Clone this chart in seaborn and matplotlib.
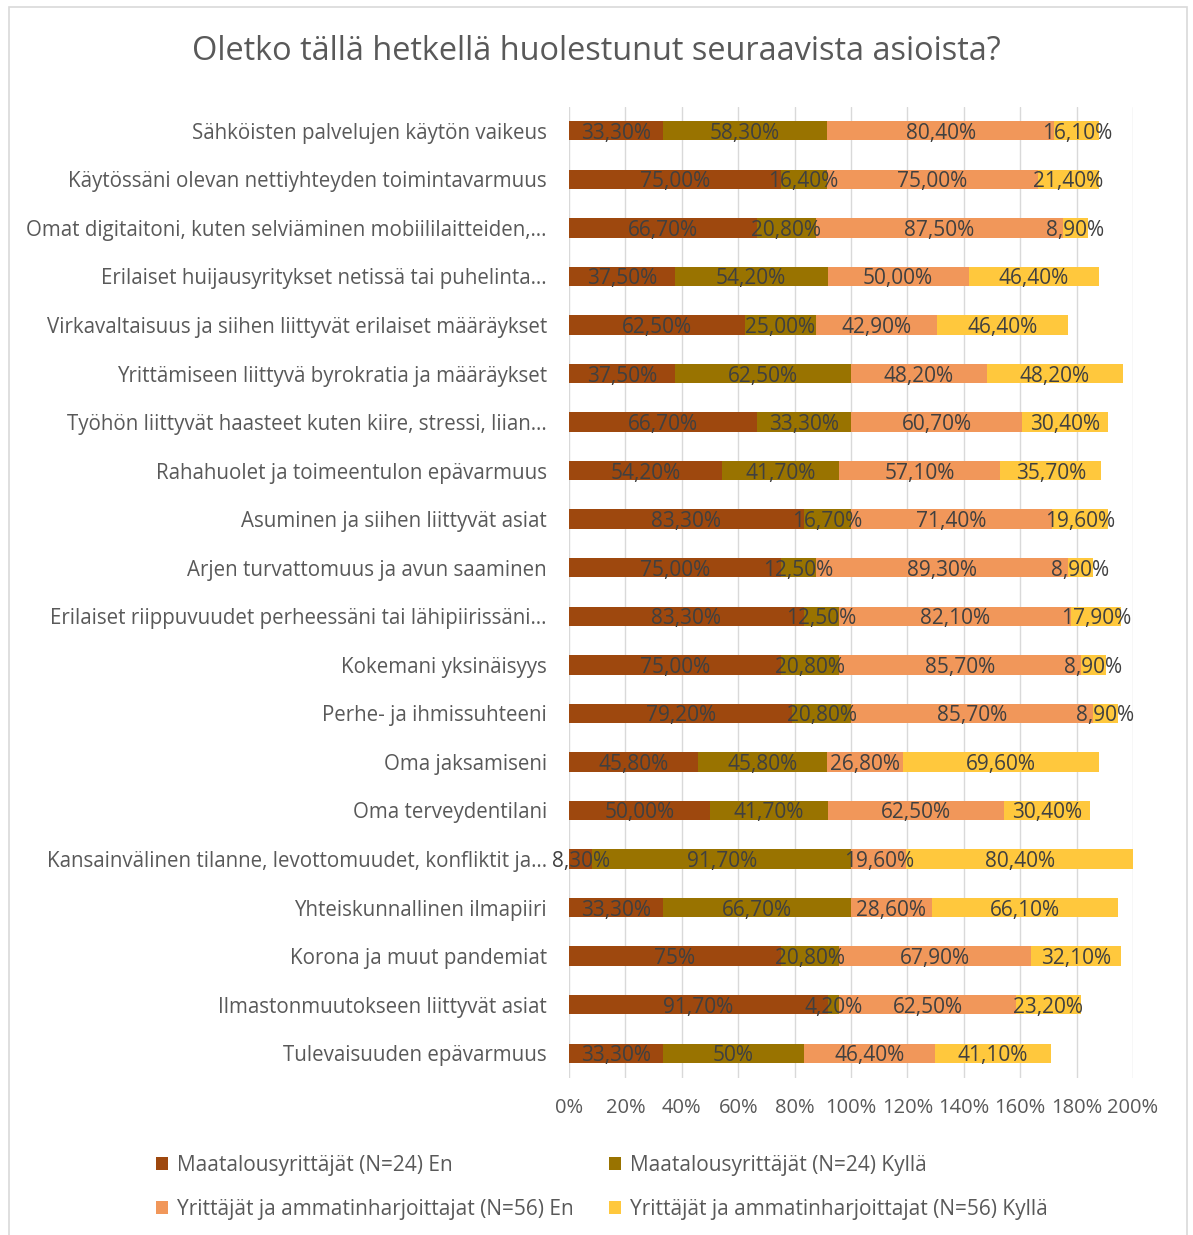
import matplotlib
matplotlib.use('Agg')
import matplotlib.pyplot as plt
from matplotlib.patches import Patch, Rectangle
import seaborn as sns
import pandas as pd
import numpy as np

#%% Data

categories = [
    'Sähköisten palvelujen käytön vaikeus',
    'Käytössäni olevan nettiyhteyden toimintavarmuus',
    'Omat digitaitoni, kuten selviäminen mobiililaitteiden,…',
    'Erilaiset huijausyritykset netissä tai puhelinta…',
    'Virkavaltaisuus ja siihen liittyvät erilaiset määräykset',
    'Yrittämiseen liittyvä byrokratia ja määräykset',
    'Työhön liittyvät haasteet kuten kiire, stressi, liian…',
    'Rahahuolet ja toimeentulon epävarmuus',
    'Asuminen ja siihen liittyvät asiat',
    'Arjen turvattomuus ja avun saaminen',
    'Erilaiset riippuvuudet perheessäni tai lähipiirissäni…',
    'Kokemani yksinäisyys',
    'Perhe- ja ihmissuhteeni',
    'Oma jaksamiseni',
    'Oma terveydentilani',
    'Kansainvälinen tilanne, levottomuudet, konfliktit ja…',
    'Yhteiskunnallinen ilmapiiri',
    'Korona ja muut pandemiat',
    'Ilmastonmuutokseen liittyvät asiat',
    'Tulevaisuuden epävarmuus',
]

maatalous_en = [33.3, 75.0, 66.7, 37.5, 62.5, 37.5, 66.7, 54.2, 83.3, 75.0,
                83.3, 75.0, 79.2, 45.8, 50.0, 8.3, 33.3, 75.0, 91.7, 33.3]
maatalous_kylla = [58.3, 16.4, 20.8, 54.2, 25.0, 62.5, 33.3, 41.7, 16.7, 12.5,
                   12.5, 20.8, 20.8, 45.8, 41.7, 91.7, 66.7, 20.8, 4.2, 50.0]
yrittajat_en = [80.4, 75.0, 87.5, 50.0, 42.9, 48.2, 60.7, 57.1, 71.4, 89.3,
                82.1, 85.7, 85.7, 26.8, 62.5, 19.6, 28.6, 67.9, 62.5, 46.4]
yrittajat_kylla = [16.1, 21.4, 8.9, 46.4, 46.4, 48.2, 30.4, 35.7, 19.6, 8.9,
                   17.9, 8.9, 8.9, 69.6, 30.4, 80.4, 66.1, 32.1, 23.2, 41.1]

series_names = ['Maatalousyrittäjät (N=24) En',
                'Maatalousyrittäjät (N=24) Kyllä',
                'Yrittäjät ja ammatinharjoittajat (N=56) En',
                'Yrittäjät ja ammatinharjoittajat (N=56) Kyllä']

# labels that are shown without decimals in the original
short_labels = {(0, 17): '75%', (1, 19): '50%'}

xticks = np.arange(0, 201, 20)

colors = ['#9E480E', '#997300', '#F1975A', '#FFC83D']

#%% Build frame

series = [maatalous_en, maatalous_kylla, yrittajat_en, yrittajat_kylla]
df = pd.DataFrame({'cat': categories})
for i, s in enumerate(series):
    df['s%d' % i] = s
cum = np.cumsum(np.array(series), axis=0)
for i in range(4):
    df['c%d' % i] = cum[i]

#%% Plot

sns.set_style('white')
plt.rcParams['font.family'] = ['Open Sans', 'DejaVu Sans']

fig = plt.figure(figsize=(11.93, 12.35), dpi=100)
ax = fig.add_axes([569 / 1193, 1 - 1077.5 / 1235,
                   (1133 - 569) / 1193, (1077.5 - 106.5) / 1235])

# stacked bars: draw the cumulative totals from largest to smallest
for i in [3, 2, 1, 0]:
    sns.barplot(data=df, x='c%d' % i, y='cat', color=colors[i], saturation=1,
                width=0.4, errorbar=None, linewidth=0, ax=ax, zorder=3)

# segment labels in the middle of each segment
for i in range(4):
    for r in range(len(categories)):
        v = series[i][r]
        left = cum[i][r] - v
        txt = short_labels.get((i, r), ('%.2f' % v).replace('.', ',') + '%')
        ax.text(left + v / 2, r, txt, ha='center', va='center_baseline',
                fontsize=15, color='#404040', zorder=5)

ax.set_xlim(0, 200)
ax.set_ylim(len(categories) - 0.5, -0.5)
ax.set_xticks(xticks)
ax.set_xticklabels(['%d%%' % t for t in xticks])
ax.set_xlabel('')
ax.set_ylabel('')
ax.grid(axis='x', color='#D9D9D9', lw=1, zorder=0)
ax.grid(axis='y', visible=False)
for sp in ax.spines.values():
    sp.set_visible(False)
ax.tick_params(axis='x', length=0, pad=15, labelsize=14.5, colors='#595959')
ax.tick_params(axis='y', length=0, pad=16, labelsize=14.8, colors='#595959')

fig.suptitle('Oletko tällä hetkellä huolestunut seuraavista asioista?',
             fontsize=23.4, color='#595959', x=0.5, y=1 - 51 / 1235, va='center')

# legend: two rows, two columns
handles = [Patch(facecolor=c, edgecolor='none') for c in colors]
order = [0, 2, 1, 3]
fig.legend([handles[k] for k in order], [series_names[k] for k in order],
           ncol=2, loc='upper left', bbox_to_anchor=(137 / 1193, 1 - 1136 / 1235),
           frameon=False, fontsize=15, labelcolor='#595959',
           handlelength=0.6, handleheight=0.6, handletextpad=0.4,
           columnspacing=1.7, labelspacing=1.1)

# chart area border
fig.patches.append(Rectangle((9 / 1193, -0.01), (1187 - 9) / 1193, (1235 - 7) / 1235 + 0.01,
                             transform=fig.transFigure, fill=False,
                             edgecolor='#D9D9D9', lw=1.2))

fig.savefig('out.png', dpi=100)
